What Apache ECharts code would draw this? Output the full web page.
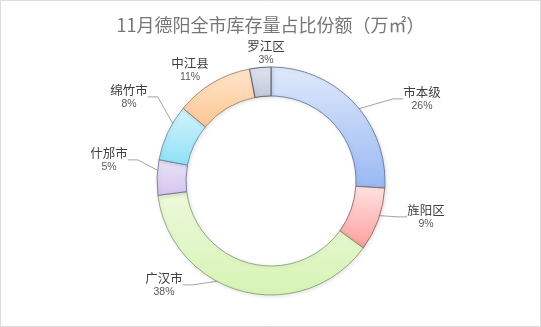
<!DOCTYPE html>
<html><head><meta charset="utf-8">
<script src="https://cdn.jsdelivr.net/npm/echarts@6/dist/echarts.min.js"></script>
<style>html,body{margin:0;padding:0;background:#fff}#c{width:541px;height:327px}</style>
</head><body><div id="c"></div>
<script>
const titleText = '11月德阳全市库存量占比份额（万㎡）';
const categories = ['市本级','旌阳区','广汉市','什邡市','绵竹市','中江县','罗江区'];
const values = [26, 9, 38, 5, 8, 11, 3];

// styling / layout (kept separate from data)
const colorTop = ['#e0e9fb','#ffe3e3','#ecf9dc','#ebe3f8','#d6f4fc','#ffe6cc','#dfe4ee'];
const colorBottom = ['#98b8f4','#ff9d9d','#d6f4b4','#d4c4ef','#8ee0f7','#fdc692','#bfc8da'];
const borderColors = ['#5a6f94','#8a5a5a','#7f9a6a','#6f6890','#5a8a99','#9a7a5a','#3c4658'];
const labelCenters = [[422,99],[426,217],[164,285],[109,160],[129,97],[190,70],[266,53]];
const showGuide = [true,true,true,true,true,false,false];

const chart = echarts.init(document.getElementById('c'), null, {renderer:'canvas'});
const visData = categories.map((n,i)=>({
  name:n, value:values[i],
  itemStyle:{
    color:new echarts.graphic.LinearGradient(0,0,0,1,[{offset:0,color:colorTop[i]},{offset:1,color:colorBottom[i]}]),
    borderColor:borderColors[i], borderWidth:0.8
  }
}));
const labData = categories.map((n,i)=>({name:n, value:values[i], labelLine:{show:showGuide[i]}}));
chart.setOption({
  animation:false,
  graphic:[{type:'rect',shape:{x:0.5,y:0.5,width:540,height:326},style:{fill:'none',stroke:'#dcdcdc',lineWidth:1},silent:true,z:-10}],
  title:{text:titleText,left:'center',top:11,textStyle:{fontFamily:'Noto Sans CJK SC',fontSize:18,fontWeight:'normal',color:'#767676'}},
  series:[
    {type:'pie',center:[271,181],radius:[85,114],startAngle:90,clockwise:true,
     label:{show:false},labelLine:{show:false},silent:true,data:visData,
     itemStyle:{shadowBlur:4,shadowColor:'rgba(0,0,0,0.12)',shadowOffsetX:1,shadowOffsetY:1}},
    {type:'pie',center:[271,181],radius:[0,99],startAngle:90,clockwise:true,silent:true,
     itemStyle:{color:'rgba(0,0,0,0)'},
     label:{show:true,formatter:'{n|{b}}\n{p|{d}%}',align:'center',verticalAlign:'middle',
       rich:{n:{fontFamily:'Noto Sans CJK SC',fontSize:12.5,color:'#404040',lineHeight:14,align:'center'},
             p:{fontFamily:'Liberation Sans',fontSize:10.5,color:'#595959',lineHeight:13,align:'center'}}},
     labelLine:{show:true,length:30,length2:10,lineStyle:{color:'#8c8c8c',width:0.8}},
     labelLayout:function(p){
       const c = labelCenters[p.dataIndex];
       return {x:c[0], y:c[1], align:'center', verticalAlign:'middle'};
     },
     data:labData}
  ]
});
</script></body></html>
